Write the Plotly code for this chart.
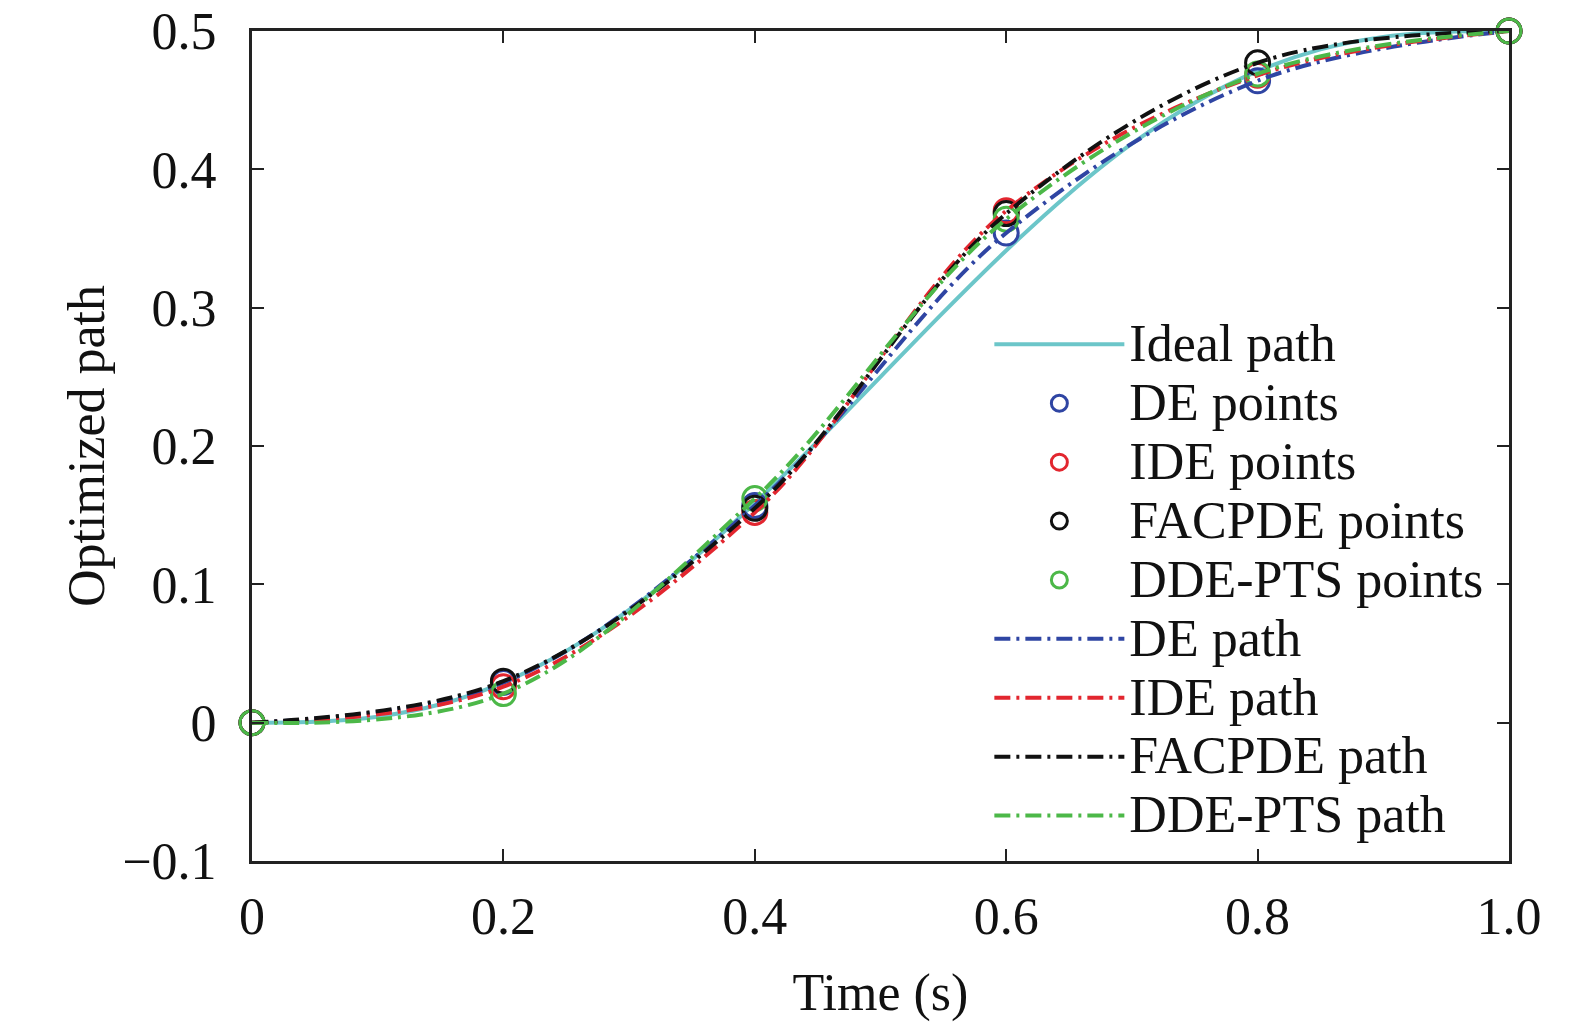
import plotly.graph_objs as go

# Time samples of the optimized points
t_points = [0, 0.2, 0.4, 0.6, 0.8, 1.0]

de_vals = [0, 0.029, 0.157, 0.354, 0.464, 0.5]
ide_vals = [0, 0.026, 0.152, 0.370, 0.468, 0.5]
facpde_vals = [0, 0.030, 0.155, 0.368, 0.477, 0.5]
ddepts_vals = [0, 0.021, 0.162, 0.364, 0.469, 0.5]

# Ideal path, sampled every 0.05 s
t_ideal = [0, 0.05, 0.1, 0.15, 0.2, 0.25, 0.3, 0.35, 0.4, 0.45, 0.5,
           0.55, 0.6, 0.65, 0.7, 0.75, 0.8, 0.85, 0.9, 0.95, 1.0]
ideal_vals = [0, 0.0006, 0.0043, 0.0133, 0.029, 0.0518, 0.0815, 0.1176, 0.1587, 0.2034, 0.25,
              0.2966, 0.3413, 0.3824, 0.4185, 0.4482, 0.471, 0.4867, 0.4957, 0.4994, 0.5]

series = [
    ('DE', de_vals, '#2f45a3'),
    ('IDE', ide_vals, '#e2262f'),
    ('FACPDE', facpde_vals, '#111111'),
    ('DDE-PTS', ddepts_vals, '#4cb848'),
]


def big(txt):
    # larger text than the legend font, so rows stay tight like the original
    return '<span style="font-size:52px">' + txt + '</span>'


data = [go.Scatter(x=t_ideal, y=ideal_vals, mode='lines', name=big('Ideal path'),
                   line={'color': '#6cc6c9', 'width': 4, 'shape': 'spline'})]

path_traces = []
point_traces = []
for name, vals, color in series:
    path_traces.append(go.Scatter(x=t_points, y=vals, mode='lines', name=big(name + ' path'),
                                  line={'color': color, 'width': 4, 'dash': '16px,6px,3px,6px',
                                        'shape': 'spline', 'smoothing': 1.0}))
    point_traces.append(go.Scatter(x=t_points, y=vals, mode='markers', name=big(name + ' points'),
                                   cliponaxis=False,
                                   marker={'symbol': 'circle-open', 'size': 24, 'color': color,
                                           'line': {'width': 3, 'color': color}}))

data = data + point_traces + path_traces

font = dict(family='Liberation Serif, Times New Roman, serif', size=52, color='#111111')

layout = go.Layout(
    width=1575, height=1027,
    paper_bgcolor='white', plot_bgcolor='white',
    margin=dict(l=244, r=74, t=23, b=174),
    font=font,
    showlegend=True,
    legend=dict(x=0.5866, y=0.664, xanchor='left', yanchor='top', bgcolor='rgba(255,255,255,0)',
                borderwidth=0, font=dict(family=font['family'], size=43, color='#111111'),
                itemwidth=130, tracegroupgap=0),
    xaxis=dict(title=dict(text='Time (s)', font=font, standoff=30), range=[0, 1.0],
               tickvals=[0, 0.2, 0.4, 0.6, 0.8, 1.0],
               ticktext=['0', '0.2', '0.4', '0.6', '0.8', '1.0'],
               ticks='inside', ticklen=12, tickwidth=2, tickcolor='#222', ticklabelstandoff=8,
               ticklabeloverflow='allow', automargin=False,
               showline=True, linecolor='#222', linewidth=3, mirror='ticks',
               showgrid=False, zeroline=False),
    yaxis=dict(title=dict(text='Optimized path', font=font, standoff=2), range=[-0.1, 0.5],
               tickvals=[-0.1, 0, 0.1, 0.2, 0.3, 0.4, 0.5],
               ticktext=['\u22120.1', '0', '0.1', '0.2', '0.3', '0.4', '0.5'],
               ticks='inside', ticklen=12, tickwidth=2, tickcolor='#222', ticklabelstandoff=22,
               ticklabeloverflow='allow', automargin=False,
               showline=True, linecolor='#222', linewidth=3, mirror='ticks',
               showgrid=False, zeroline=False),
)

fig = go.Figure(data=data, layout=layout)
fig.write_html('out.html')
